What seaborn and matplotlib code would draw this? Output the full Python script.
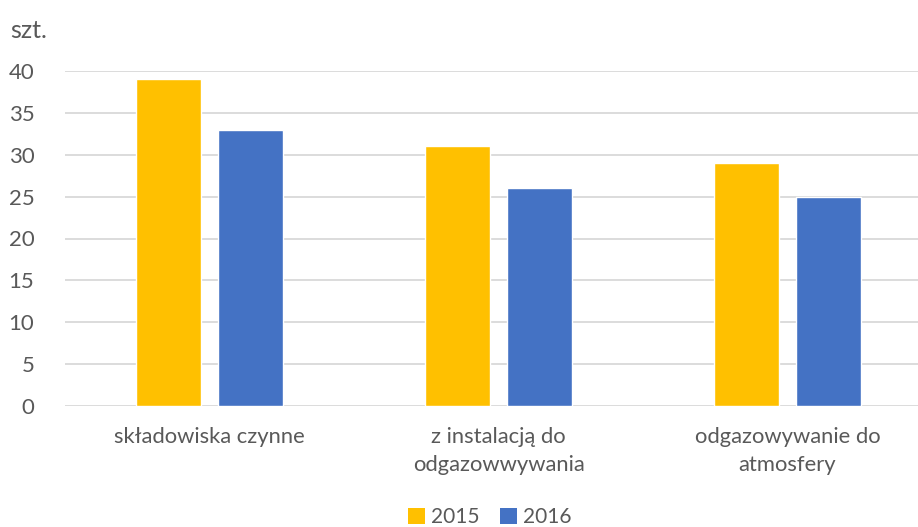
import matplotlib
matplotlib.use("Agg")
import matplotlib.pyplot as plt
import seaborn as sns
import pandas as pd
from matplotlib.patches import Patch

categories = ["składowiska czynne", "z instalacją do\nodgazowwywania", "odgazowywanie do\natmosfery"]
years = ["2015", "2016"]
values_2015 = [39, 31, 29]
values_2016 = [33, 26, 25]
yticks = [0, 5, 10, 15, 20, 25, 30, 35, 40]
unit_label = "szt."

df = pd.DataFrame({
    "cat": categories * 2,
    "year": [years[0]] * 3 + [years[1]] * 3,
    "val": values_2015 + values_2016,
})

sns.set_theme(style="white")
plt.rcParams["font.family"] = ["Lato", "DejaVu Sans"]
text_color = "#595959"
colors = ["#FFC000", "#4472C4"]

W, H = 918, 527
fig = plt.figure(figsize=(W / 100, H / 100), dpi=100)
ax = fig.add_axes([65 / W, (H - 406) / H, (W - 65) / W, 335 / H])

sns.barplot(data=df, x="cat", y="val", hue="year", palette=colors,
            width=0.567, gap=0.21, ax=ax, legend=False, saturation=1)

ax.set_xlim(-0.5, (W - 65) / 289 - 0.5)
ax.set_ylim(0, 40)
ax.set_yticks(yticks)
ax.yaxis.grid(True, color="#D9D9D9", linewidth=1.3)
ax.set_axisbelow(True)
for s in ax.spines.values():
    s.set_visible(False)
ax.tick_params(axis="y", length=0, pad=22, labelsize=16, labelcolor=text_color)
ax.tick_params(axis="x", length=0, pad=15, labelsize=15.8, labelcolor=text_color)
for lbl in ax.get_xticklabels():
    lbl.set_linespacing(1.5)
ax.set_xlabel("")
ax.set_ylabel("")

fig.text(10 / W, 1 - 31 / H, unit_label, fontsize=18, color=text_color,
         ha="left", va="center")

handles = [Patch(facecolor=c, edgecolor="none") for c in colors]
fig.legend(handles, years, loc="center", bbox_to_anchor=(490 / W, 1 - 517 / H),
           ncol=2, frameon=False, fontsize=15, labelcolor=text_color,
           handlelength=0.8, handleheight=0.8, handletextpad=0.3,
           columnspacing=1.0)

fig.savefig("out.png", dpi=100)
